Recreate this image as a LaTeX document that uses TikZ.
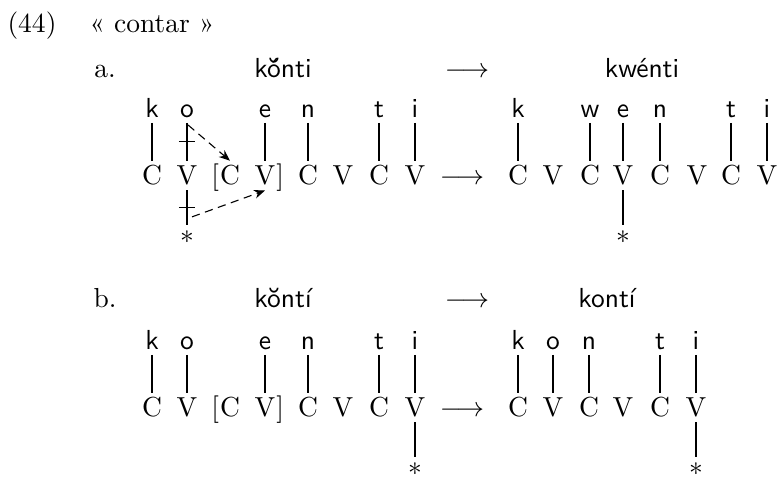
\documentclass[tikz,border=0pt]{standalone}
\usetikzlibrary{calc,arrows.meta}
\tikzset{
 seg/.style={font=\sffamily, anchor=base, inner sep=0pt, text depth=0pt, outer ysep=1.8pt},
 cv/.style={anchor=base, inner sep=0pt, text height=6.83pt, text depth=0pt, outer ysep=2pt},
 brk/.style={anchor=base, inner sep=0pt},
 star/.style={anchor=base, inner sep=0pt, outer ysep=2.3pt},
 ttl/.style={font=\sffamily, anchor=base, inner sep=0pt},
 lab/.style={anchor=base, inner sep=0pt},
 assoc/.style={line width=0.4pt},
 dasharr/.style={dash pattern=on 3pt off 2pt, -{Stealth[length=4pt,width=3.2pt]}, line width=0.4pt},
}
\begin{document}
\begin{tikzpicture}[x=0.3636pt,y=-0.3636pt]
\useasboundingbox (0,0) rectangle (778,478);
% header
\node[lab] (num) at (32,33) {(44)};
\node[lab] (gloss) at (152,33) {« contar »};
% ---------- a ----------
\node[lab] (la) at (105,78) {a.};
\node[ttl] (ta1) at (283,78) {kŏ́nti};
\node[lab] (aa1) at (467,78) {$\longrightarrow$};
\node[ttl] (ta2) at (642,78) {kwénti};
% left CV
\node[cv] (aC1) at (152,185) {C};
\node[cv] (aV1) at (187,185) {V};
\node[cv] (aC2) at (230,185) {C};
\node[cv] (aV2) at (265,185) {V};
\node[brk,anchor=base east] (ab1) at (aC2.base west) {[};
\node[brk,anchor=base west] (ab2) at (aV2.base east) {]};
\node[cv] (aC3) at (308,185) {C};
\node[cv] (aV3) at (343,185) {V};
\node[cv] (aC4) at (379,185) {C};
\node[cv] (aV4) at (415,185) {V};
\node[seg] (ak) at (152,118) {k};
\node[seg] (ao) at (187,118) {o};
\node[seg] (ae) at (265,118) {e};
\node[seg] (an) at (308,118) {n};
\node[seg] (at) at (379,118) {t};
\node[seg] (ai) at (415,118) {i};
\node[star] (as1) at (187,244) {$*$};
\draw[assoc] (ak) -- (aC1);
\draw[assoc] (ao) -- (aV1);
\draw[assoc] (ae) -- (aV2);
\draw[assoc] (an) -- (aC3);
\draw[assoc] (at) -- (aC4);
\draw[assoc] (ai) -- (aV4);
\draw[assoc] (aV1) -- (as1);
\draw[assoc] ($(ao.south)!.5!(aV1.north)$) ++(-8,0) -- ++(16,0);
\draw[assoc] ($(aV1.south)!.5!(as1.north)$) ++(-8,0) -- ++(16,0);
\draw[dasharr] ($(ao.south)+(1,2)$) -- (aC2.north);
\draw[dasharr] ($(as1.north)+(5,-8)$) -- (aV2.south);
\node[lab] (ar1) at (462,185) {$\longrightarrow$};
% right CV
\node[cv] (aR1) at (518,185) {C};
\node[cv] (aR2) at (553,185) {V};
\node[cv] (aR3) at (590,185) {C};
\node[cv] (aR4) at (623,185) {V};
\node[cv] (aR5) at (660,185) {C};
\node[cv] (aR6) at (697,185) {V};
\node[cv] (aR7) at (731,185) {C};
\node[cv] (aR8) at (767,185) {V};
\node[seg] (bk) at (518,118) {k};
\node[seg] (bw) at (590,118) {w};
\node[seg] (be) at (623,118) {e};
\node[seg] (bn) at (660,118) {n};
\node[seg] (bt) at (731,118) {t};
\node[seg] (bi) at (767,118) {i};
\node[star] (as2) at (623,244) {$*$};
\draw[assoc] (bk) -- (aR1);
\draw[assoc] (bw) -- (aR3);
\draw[assoc] (be) -- (aR4);
\draw[assoc] (bn) -- (aR5);
\draw[assoc] (bt) -- (aR7);
\draw[assoc] (bi) -- (aR8);
\draw[assoc] (aR4) -- (as2);
% ---------- b ----------
\node[lab] (lb) at (105,308) {b.};
\node[ttl] (tb1) at (283,308) {kŏntí};
\node[lab] (ba1) at (467,308) {$\longrightarrow$};
\node[ttl] (tb2) at (607,308) {kontí};
\node[cv] (bC1) at (152,417) {C};
\node[cv] (bV1) at (187,417) {V};
\node[cv] (bC2) at (230,417) {C};
\node[cv] (bV2) at (265,417) {V};
\node[brk,anchor=base east] (bb1) at (bC2.base west) {[};
\node[brk,anchor=base west] (bb2) at (bV2.base east) {]};
\node[cv] (bC3) at (308,417) {C};
\node[cv] (bV3) at (343,417) {V};
\node[cv] (bC4) at (379,417) {C};
\node[cv] (bV4) at (415,417) {V};
\node[seg] (ck) at (152,350) {k};
\node[seg] (co) at (187,350) {o};
\node[seg] (ce) at (265,350) {e};
\node[seg] (cn) at (308,350) {n};
\node[seg] (ct) at (379,350) {t};
\node[seg] (ci) at (415,350) {i};
\node[star] (bs1) at (415,476) {$*$};
\draw[assoc] (ck) -- (bC1);
\draw[assoc] (co) -- (bV1);
\draw[assoc] (ce) -- (bV2);
\draw[assoc] (cn) -- (bC3);
\draw[assoc] (ct) -- (bC4);
\draw[assoc] (ci) -- (bV4);
\draw[assoc] (bV4) -- (bs1);
\node[lab] (br1) at (462,417) {$\longrightarrow$};
\node[cv] (bR1) at (518,417) {C};
\node[cv] (bR2) at (553,417) {V};
\node[cv] (bR3) at (589,417) {C};
\node[cv] (bR4) at (623,417) {V};
\node[cv] (bR5) at (660,417) {C};
\node[cv] (bR6) at (696,417) {V};
\node[seg] (dk) at (518,350) {k};
\node[seg] (do) at (553,350) {o};
\node[seg] (dn) at (589,350) {n};
\node[seg] (dt) at (660,350) {t};
\node[seg] (di) at (696,350) {i};
\node[star] (bs2) at (696,476) {$*$};
\draw[assoc] (dk) -- (bR1);
\draw[assoc] (do) -- (bR2);
\draw[assoc] (dn) -- (bR3);
\draw[assoc] (dt) -- (bR5);
\draw[assoc] (di) -- (bR6);
\draw[assoc] (bR6) -- (bs2);
\end{tikzpicture}
\end{document}
